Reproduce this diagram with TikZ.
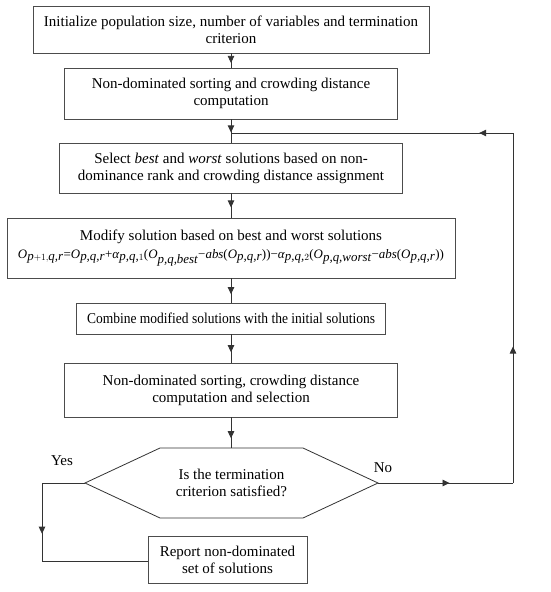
\documentclass[tikz,border=0pt]{standalone}
\usepackage{fontspec}
\setmainfont{Liberation Serif}
\newfontfamily\tnr{Liberation Serif}
\usetikzlibrary{arrows.meta,decorations.markings}
\newcommand{\Osub}[1]{\textit{O}$_{\textit{#1}}$}
\tikzset{
  boxnode/.style={draw=black!70, line width=0.8pt, align=center, inner sep=0pt, font=\tnr\fontsize{15}{17}\selectfont},
  lbl/.style={font=\tnr\fontsize{15}{17}\selectfont, inner sep=0pt},
  conn/.style={draw=black!80, line width=0.8pt},
  arrowat/.style={postaction={decorate}, decoration={markings, mark=at position #1 with {\arrow{Triangle[width=6.5pt,length=7pt]}}}}
}
\begin{document}
\begin{tikzpicture}[x=1pt,y=-1pt]
\useasboundingbox (0,0) rectangle (550,592);
\node[boxnode, minimum width=396pt, minimum height=47pt] (b1) at (231,29.5) {Initialize population size, number of variables and termination\\criterion};
\node[boxnode, minimum width=333pt, minimum height=51pt] (b2) at (231,93.5) {Non-dominated sorting and crowding distance\\computation};
\node[boxnode, minimum width=343pt, minimum height=50pt] (b3) at (231,168) {Select \textit{best} and \textit{worst} solutions based on non-\\dominance rank and crowding distance assignment};
\node[boxnode, minimum width=448pt, minimum height=60pt] (b4) at (231,248) {Modify solution based on best and worst solutions\\[1pt]
\resizebox{426pt}{!}{\textit{O}$_{\textit{p}+1,\textit{q,r}}$=\Osub{p,q,r}+\textit{α}$_{\textit{p,q,}1}$(\Osub{p,q,best}−\textit{abs}(\Osub{p,q,r}))−\textit{α}$_{\textit{p,q,}2}$(\Osub{p,q,worst}−\textit{abs}(\Osub{p,q,r}))}};
\node[boxnode, minimum width=309pt, minimum height=31pt] (b5) at (231,318.5) {\scalebox{0.9}[1]{Combine modified solutions with the initial solutions}};
\node[boxnode, minimum width=333pt, minimum height=54pt] (b6) at (231,390) {Non-dominated sorting, crowding distance\\computation and selection};
\node[boxnode, minimum width=159pt, minimum height=47pt] (b7) at (227.5,559.5) {Report non-dominated\\set of solutions};
% decision hexagon
\coordinate (hexL) at (85,483);
\coordinate (hexR) at (378,483);
\coordinate (hexT) at (231,448);
\draw[conn] (hexL) -- (160,448) -- (303,448) -- (hexR) -- (303,518) -- (160,518) -- cycle;
\node[lbl, align=center] (hex) at (231.5,483) {Is the termination\\criterion satisfied?};
\node[lbl] (yes) at (62,461) {Yes};
\node[lbl] (no) at (383,468) {No};
% coordinates
\coordinate (c1) at (513,483);
\coordinate (c2) at (513,133);
\coordinate (j) at (231,133);
\coordinate (y1) at (42,483);
\coordinate (y2) at (42,561);
% main flow
\draw[conn, arrowat=0.67] (b1.south) -- (b2.north);
\draw[conn, arrowat=0.56] (b2.south) -- (b3.north);
\draw[conn, arrowat=0.58] (b3.south) -- (b4.north);
\draw[conn, arrowat=0.65] (b4.south) -- (b5.north);
\draw[conn, arrowat=0.63] (b5.south) -- (b6.north);
\draw[conn, arrowat=0.68] (b6.south) -- (hexT);
% no loop
\draw[conn, arrowat=0.53] (hexR) -- (c1);
\draw[conn, arrowat=0.39] (c1) -- (c2);
\draw[conn, arrowat=0.12] (c2) -- (j);
% yes branch
\draw[conn] (hexL) -- (y1);
\draw[conn, arrowat=0.65] (y1) -- (y2);
\draw[conn] (y2) -- (b7.west |- y2);
\end{tikzpicture}
\end{document}
